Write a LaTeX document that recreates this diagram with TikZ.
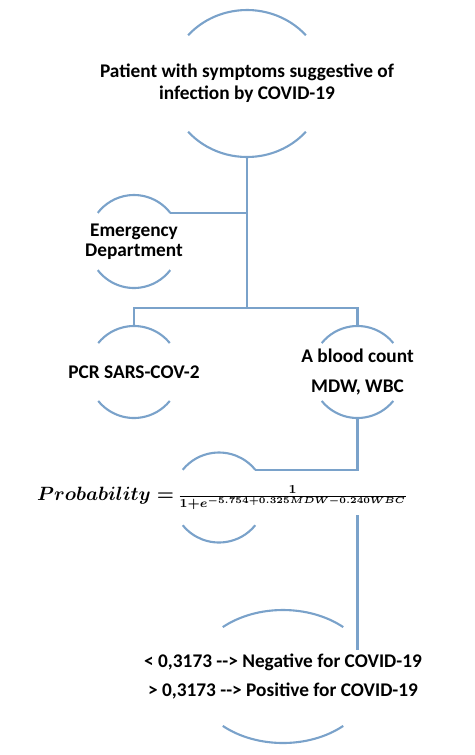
\documentclass[tikz,border=0pt]{standalone}
\usepackage{fontspec}
\setmainfont{Carlito}
\usepackage{amsmath}
\usetikzlibrary{calc}
\definecolor{ringblue}{RGB}{122,162,202}
\tikzset{
    ring/.style={draw=ringblue,line width=1.2pt},
    link/.style={draw=ringblue,line width=1.2pt},
    ringtext/.style={font=\bfseries\fontsize{11}{12.5}\selectfont,align=center,inner sep=0pt},
    formula/.style={fill=white,inner xsep=2pt,inner ysep=3pt,font=\boldmath},
}
% #1 name, #2 centre, #3 x radius, #4 y radius, #5 angle of the arc ends
\newcommand\RingArcs[5]{%
    \coordinate (#1) at (#2);
    \coordinate (#1-n) at ($(#1)+(0,#4)$);
    \coordinate (#1-s) at ($(#1)+(0,-#4)$);
    \coordinate (#1-ne) at ($(#1)+(#5:#3 and #4)$);
    \draw[ring] (#1) ++(#5:#3 and #4) arc[start angle=#5,end angle=180-#5,x radius=#3,y radius=#4];
    \draw[ring] (#1) ++(180+#5:#3 and #4) arc[start angle=180+#5,end angle=360-#5,x radius=#3,y radius=#4];
}

\begin{document}
\begin{tikzpicture}[x=0.02cm,y=0.02cm]
    \useasboundingbox (0,0) rectangle (474,-755);
    \RingArcs{pat}{247,-83.5}{78}{73.5}{41}
    \RingArcs{em}{134,-241.5}{46}{46.5}{38}
    \RingArcs{pcr}{134,-372}{46}{46}{39}
    \RingArcs{blood}{357.5,-372}{46}{46}{39}
    \RingArcs{prob}{219,-497.5}{46}{45}{38}
    \RingArcs{fin}{283,-676.5}{90}{66.5}{48}
    \coordinate (fork) at (247,-308);
    \coordinate (fin-in) at (357.5,-650);

    \draw[link] (pat-s) -- (fork);
    \draw[link] (em-ne) -- (em-ne -| fork);
    \draw[link] (pcr-n) |- (fork) -| (blood-n);
    \draw[link] (blood-s) |- (prob-ne);
    \draw[link] (prob) -| (fin-in);

    \node[ringtext] (pattxt) at (pat) {Patient with symptoms suggestive of\\infection by COVID-19};
    \node[ringtext,font=\bfseries\fontsize{11}{11.3}\selectfont] (emtxt) at (em) {Emergency\\Department};
    \node[ringtext] (pcrtxt) at (pcr) {PCR SARS-COV-2};
    \node[ringtext,font=\bfseries\fontsize{11}{17}\selectfont] (bloodtxt) at (blood) {A blood count\\MDW, WBC};
    \node[formula] (probtxt) at ([xshift=2]prob) {\fontsize{11.3}{13}\selectfont$Probability=$\,\fontsize{10.2}{12}\selectfont$\frac{1}{1+e^{-5.754+0.325MDW-0.240WBC}}$};
    \node[ringtext,font=\bfseries\fontsize{11}{17}\selectfont] (fintxt) at (fin) {< 0,3173 -{}-> Negative for COVID-19\\> 0,3173 -{}-> Positive for COVID-19};
\end{tikzpicture}
\end{document}
